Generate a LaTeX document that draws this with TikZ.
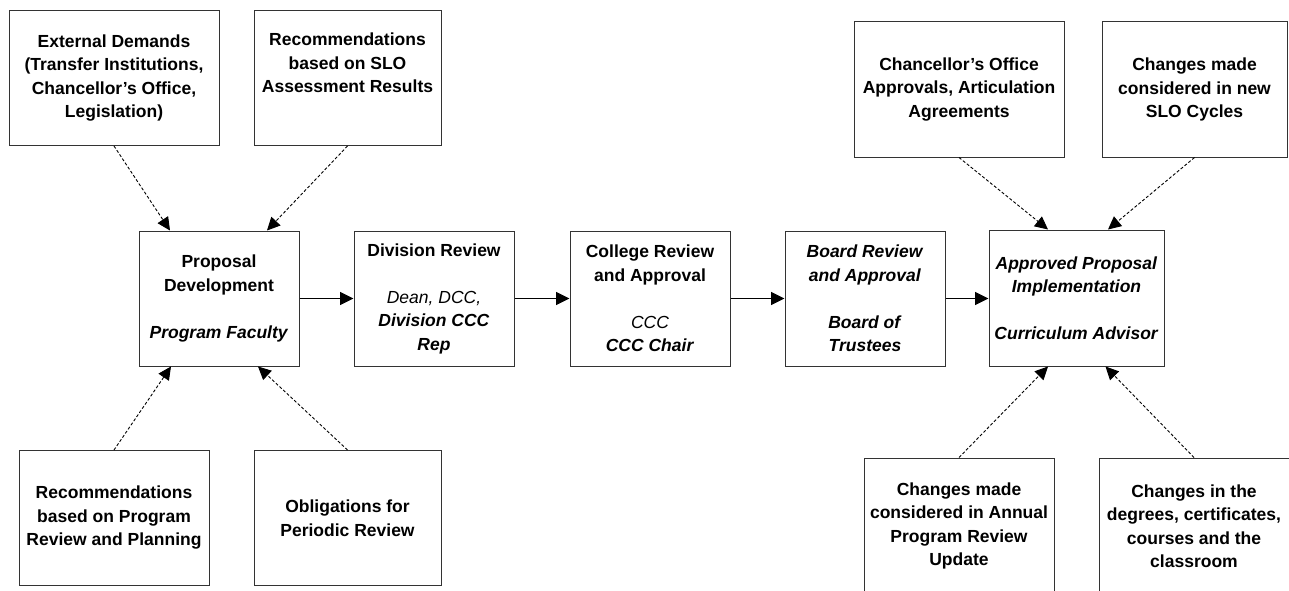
\documentclass[tikz,border=0pt]{standalone}
\usepackage{fontspec}
\setmainfont{Liberation Sans}
\usetikzlibrary{arrows.meta}

\begin{document}
\begin{tikzpicture}[x=1pt,y=-1pt,
  box/.style={draw=black!80, line width=1pt, minimum width=#1, minimum height=135pt,
    align=center, inner sep=0pt, font=\fontsize{17.5}{23.5}\selectfont\bfseries},
  flow/.style={-{Triangle[length=13.5pt,width=13pt]}, line width=1pt},
  feed/.style={-{Triangle[length=13pt,width=12.5pt]}, line width=0.9pt, dash pattern=on 3pt off 2pt}
]
\clip (0,0) rectangle (1289,591);
\fill[white] (0,0) rectangle (1289,591);

% inputs to the proposal
\node[box=210pt] (ext) at (114,78) {External Demands\\(Transfer Institutions,\\Chancellor’s Office,\\Legislation)};
\node[box=187pt] (slo) at (347.5,78) {Recommendations\\based on SLO\\Assessment Results\\\strut};
\node[box=190pt] (rpr) at (114,518) {Recommendations\\based on Program\\Review and Planning};
\node[box=187pt] (obl) at (347.5,518) {Obligations for\\Periodic Review};

% main approval chain
\node[box=160pt] (prop) at (219,298.5) {Proposal\\Development\\[23.5pt]\textit{Program Faculty}};
\node[box=160pt] (div) at (434,298.5) {Division Review\\[23.5pt]{\mdseries\itshape Dean, DCC,}\\\textit{Division CCC}\\\textit{Rep}};
\node[box=160pt] (col) at (650,298.5) {College Review\\and Approval\\[23.5pt]{\mdseries\itshape CCC}\\\textit{CCC Chair}};
\node[box=160pt] (board) at (865,298.5) {\textit{Board Review}\\\textit{and Approval}\\[23.5pt]\textit{Board of}\\\textit{Trustees}};
\node[box=175pt, minimum height=136pt] (appr) at (1076.5,298) {\textit{Approved Proposal}\\\textit{Implementation}\\[23.5pt]\textit{Curriculum Advisor}};

% follow-up effects
\node[box=210pt] (chan) at (959,89.5) {Chancellor’s Office\\Approvals, Articulation\\Agreements};
\node[box=185pt] (sloc) at (1194.5,89.5) {Changes made\\considered in new\\SLO Cycles};
\node[box=190pt, minimum height=136pt] (ann) at (959,526) {Changes made\\considered in Annual\\Program Review\\Update};
\node[box=190pt, minimum height=136pt] (deg) at (1194,526) {Changes in the\\degrees, certificates,\\courses and the\\classroom};

% solid flow arrows
\draw[flow] (prop.east) -- (div.west);
\draw[flow] (div.east) -- (col.west);
\draw[flow] (col.east) -- (board.west);
\draw[flow] (board.east) -- (appr.west |- board.east);

% dashed influence arrows
\draw[feed] (ext.south) -- ([xshift=-49pt]prop.north);
\draw[feed] (slo.south) -- ([xshift=48pt]prop.north);
\draw[feed] (rpr.north) -- ([xshift=-48pt]prop.south);
\draw[feed] (obl.north) -- ([xshift=39pt]prop.south);
\draw[feed] (chan.south) -- ([xshift=-28.5pt]appr.north);
\draw[feed] (sloc.south) -- ([xshift=31.5pt]appr.north);
\draw[feed] (ann.north) -- ([xshift=-28.5pt]appr.south);
\draw[feed] (deg.north) -- ([xshift=29pt]appr.south);
\end{tikzpicture}
\end{document}
